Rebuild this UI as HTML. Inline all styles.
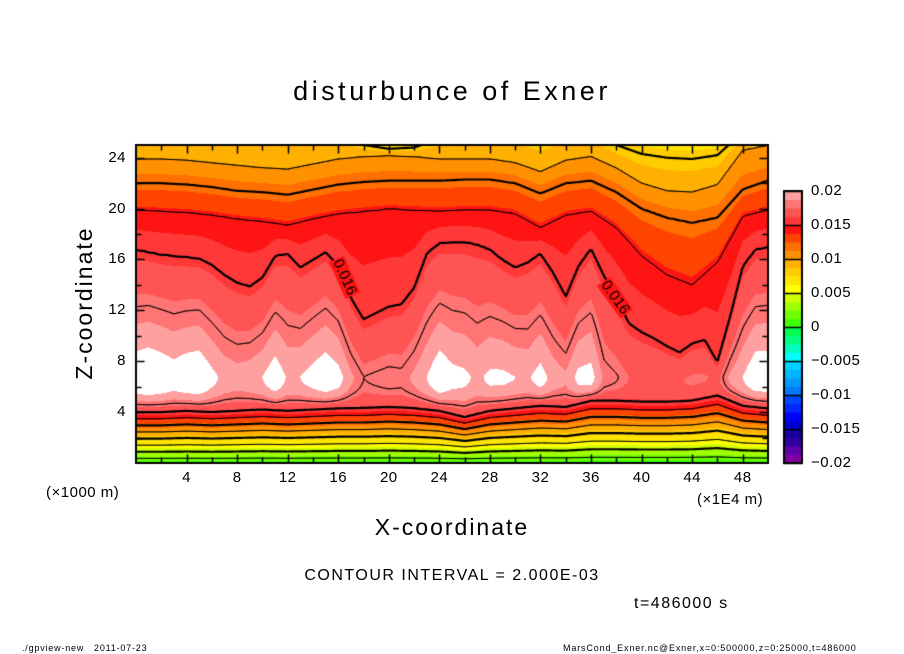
<!DOCTYPE html>
<html><head><meta charset="utf-8">
<style>
body{margin:0;background:#fff;}
#wrap{position:relative;width:904px;height:654px;overflow:hidden;background:#fff;font-family:"Liberation Sans",sans-serif;}
.t{position:absolute;white-space:nowrap;color:#000;}
canvas{position:absolute;left:0;top:0;}
</style></head>
<body>
<div id="wrap">
<canvas id="cv" width="904" height="654"></canvas>
<div class="t" style="left:0;width:904px;text-align:center;top:76px;font-size:27px;letter-spacing:3.5px;">disturbunce of Exner</div>
<div class="t" style="left:0;width:904px;text-align:center;top:514px;font-size:23px;letter-spacing:2px;">X-coordinate</div>
<div class="t" style="left:-16px;top:290px;width:200px;text-align:center;font-size:23px;letter-spacing:2px;transform:translate(0px,0) rotate(-90deg);transform-origin:100px 13px;">Z-coordinate</div>
<div class="t" style="left:46px;top:484px;font-size:15px;letter-spacing:0.5px;">(×1000 m)</div>
<div class="t" style="left:697px;top:491px;font-size:15px;letter-spacing:0.5px;">(×1E4 m)</div>
<div class="t" style="left:0;width:904px;text-align:center;top:567px;font-size:16px;letter-spacing:1.5px;">CONTOUR INTERVAL = 2.000E-03</div>
<div class="t" style="left:634px;top:595px;font-size:16px;letter-spacing:1.5px;">t=486000 s</div>
<div class="t" style="left:22px;top:643px;font-size:9px;letter-spacing:0.8px;">./gpview-new&nbsp;&nbsp;&nbsp;2011-07-23</div>
<div class="t" style="left:563px;top:643px;font-size:9px;letter-spacing:0.85px;">MarsCond_Exner.nc@Exner,x=0:500000,z=0:25000,t=486000</div>
<div id="labels"></div>
</div>
<script>
// ---- data ----
const xTicks=[4,8,12,16,20,24,28,32,36,40,44,48];
const zTicks=[4,8,12,16,20,24];
const cbTicks=[0.02,0.015,0.01,0.005,0,-0.005,-0.01,-0.015,-0.02];
const cbLabels=["0.02","0.015","0.01","0.005","0","\u22120.005","\u22120.01","\u22120.015","\u22120.02"];
// per x = 0..50 step 1
const zUpper16=[16.8,16.6,16.4,16.3,16.2,16.1,15.6,14.8,14.2,13.9,14.6,16.3,16.5,15.4,16.0,16.6,15.5,13.0,11.3,11.8,12.3,12.5,13.8,16.5,17.3,17.4,17.4,17.2,16.8,16.0,15.4,15.8,16.5,15.0,13.1,15.5,16.9,14.8,13.0,11.0,10.3,9.8,9.2,8.7,9.4,9.7,7.9,11.5,15.5,16.8,17.0];
const peakVal=[0.0212,0.0215,0.0212,0.0208,0.0212,0.0214,0.0204,0.0196,0.0193,0.0195,0.0200,0.0210,0.0198,0.0200,0.0206,0.0212,0.0206,0.0190,0.0180,0.0182,0.0184,0.0183,0.0190,0.0200,0.0212,0.0205,0.0203,0.0197,0.0203,0.0203,0.0200,0.0198,0.0206,0.0195,0.0190,0.0204,0.0206,0.0185,0.0181,0.0175,0.0174,0.0174,0.0174,0.0174,0.0177,0.0176,0.0172,0.0190,0.0200,0.0212,0.0212];
// per x = 0..50 step 2
const zUpper14=[19.9,19.8,19.7,19.5,19.2,19.0,18.7,19.2,19.6,19.8,20.0,19.9,19.8,19.9,19.9,19.6,18.5,19.5,19.8,18.5,16.3,14.8,14.0,15.8,19.4,19.9];
const zUpper12=[22.0,22.0,21.9,21.7,21.4,21.3,21.1,21.5,21.9,22.1,22.2,22.2,22.2,22.3,22.3,22.0,21.2,22.0,22.2,21.3,20.0,19.3,18.9,19.3,21.5,22.2];
const zUpper10=[23.9,23.9,23.8,23.6,23.4,23.2,23.1,23.5,23.9,24.1,24.2,24.1,23.9,23.9,23.9,23.6,22.9,23.8,24.1,23.2,22.0,21.4,21.3,21.9,24.6,25.0];
const zUpper8=[26,26,26,26,26,26,26,26,25.8,25.0,24.7,24.8,25.5,26,26,26,25.5,26,26,25.0,24.3,24.0,23.9,24.2,26,26];
const zLower16=[4.0,4.0,4.1,4.0,4.1,4.2,4.1,4.2,4.3,4.3,4.4,4.3,4.1,3.6,4.1,4.3,4.5,4.4,4.9,4.9,4.8,4.8,4.9,5.3,4.5,4.3];
const bandColors=["#8000a0","#6000a8","#3000a0","#1800a0","#0000d0","#0000ff","#0028ff","#0048ff","#0078ff","#0098ff","#00b4ff","#00d0ff","#00ffff","#00ffc0","#00ff80","#00ff50","#40ff00","#70ff00","#a0ff00","#d0ff00","#ffff00","#ffe400","#ffcc00","#ffb000","#ff9000","#ff7000","#ff4400","#ff1414","#ff3838","#ff5454","#ff7474","#ffa0a0"];
// ---- axes ----
const PX0=136,PX1=768,PY0=145,PY1=463,XMAX=50,ZMAX=25;
const sx=x=>PX0+(x/XMAX)*(PX1-PX0);
const sz=z=>PY1-(z/ZMAX)*(PY1-PY0);
const CBX=784,CBW=18,CBY0=191,CBY1=463;
const scb=v=>CBY1-(v+0.02)/0.04*(CBY1-CBY0);
function lerpArr(a,x,step){let i=x/step;let i0=Math.max(0,Math.min(a.length-2,Math.floor(i)));let t=i-i0;return a[i0]*(1-t)+a[i0+1]*t;}
function field(x,z){
  const zL=lerpArr(zLower16,x,2),zU=lerpArr(zUpper16,x,1),P=lerpArr(peakVal,x,1);
  if(z<=zL) return 0.0006+0.0154*(z/zL);
  if(z<zU){
    const zp=Math.min(6.8,zL+(zU-zL)*0.4);let s;
    if(z<zp){const t=(z-zL)/(zp-zL);s=1-(1-t)*(1-t);}else{const t=(zU-z)/(zU-zp);s=Math.pow(t,1.2);}
    return 0.016+(P-0.016)*s;
  }
  const hs=[zU,lerpArr(zUpper14,x,2),lerpArr(zUpper12,x,2),lerpArr(zUpper10,x,2),lerpArr(zUpper8,x,2)];
  const vs=[0.016,0.014,0.012,0.010,0.008];
  for(let k=0;k<4;k++){if(z<=hs[k+1]){return vs[k]+(vs[k+1]-vs[k])*(z-hs[k])/Math.max(0.05,hs[k+1]-hs[k]);}}
  return 0.008-0.002*(z-hs[4])/Math.max(0.3,hs[4]-hs[3]);
}
function colorOf(v){if(v>=0.02)return "#ffffff";let i=Math.floor((v+0.02)/0.00125);i=Math.max(0,Math.min(bandColors.length-1,i));return bandColors[i];}
function hex(c){return [parseInt(c.substr(1,2),16),parseInt(c.substr(3,2),16),parseInt(c.substr(5,2),16)];}
const cv=document.getElementById('cv');const ctx=cv.getContext('2d');
const W=PX1-PX0,H=PY1-PY0;const img=ctx.createImageData(W,H);
for(let j=0;j<H;j++){const z=(PY1-(PY0+j+0.5))/(PY1-PY0)*ZMAX;
  for(let i=0;i<W;i++){const x=(i+0.5)/W*XMAX;const c=hex(colorOf(field(x,z)));const o=(j*W+i)*4;img.data[o]=c[0];img.data[o+1]=c[1];img.data[o+2]=c[2];img.data[o+3]=255;}}
ctx.putImageData(img,PX0,PY0);
// contours (marching squares)
const G=2,NX=Math.ceil(W/G)+1,NY=Math.ceil(H/G)+1;const grid=[];
for(let j=0;j<NY;j++){grid.push([]);for(let i=0;i<NX;i++){const px=Math.min(W,i*G),py=Math.min(H,j*G);grid[j].push(field(px/W*XMAX,(H-py)/H*ZMAX));}}
ctx.strokeStyle="#000";ctx.lineCap="round";
for(let L=1;L<=9;L++){const lev=L*0.002;ctx.lineWidth=(L%2===0)?2.2:1;ctx.beginPath();
  for(let j=0;j<NY-1;j++)for(let i=0;i<NX-1;i++){
    const a=grid[j][i],b=grid[j][i+1],c=grid[j+1][i+1],d=grid[j+1][i];
    const x0=PX0+Math.min(W,i*G),x1=PX0+Math.min(W,(i+1)*G),y0=PY0+Math.min(H,j*G),y1=PY0+Math.min(H,(j+1)*G);
    const pts=[];
    if((a-lev)*(b-lev)<0){const t=(lev-a)/(b-a);pts.push([x0+t*(x1-x0),y0]);}
    if((b-lev)*(c-lev)<0){const t=(lev-b)/(c-b);pts.push([x1,y0+t*(y1-y0)]);}
    if((d-lev)*(c-lev)<0){const t=(lev-d)/(c-d);pts.push([x0+t*(x1-x0),y1]);}
    if((a-lev)*(d-lev)<0){const t=(lev-a)/(d-a);pts.push([x0,y0+t*(y1-y0)]);}
    for(let k=0;k+1<pts.length;k+=2){ctx.moveTo(pts[k][0],pts[k][1]);ctx.lineTo(pts[k+1][0],pts[k+1][1]);}
  }ctx.stroke();}
// contour labels
function clabel(x,z,ang){const X=sx(x),Y=sz(z);ctx.save();ctx.translate(X,Y);ctx.rotate(ang);
  ctx.fillStyle="#ff1414";ctx.fillRect(-20,-8,40,16);ctx.fillStyle="#000";ctx.font="15px 'Liberation Sans',sans-serif";ctx.textAlign="center";ctx.textBaseline="middle";ctx.fillText("0.016",0,0);ctx.restore();}
clabel(16.5,14.6,1.15);clabel(37.9,13.0,0.95);
// frame & ticks
ctx.lineWidth=2;ctx.strokeRect(PX0,PY0,W,H);ctx.lineWidth=1.5;ctx.beginPath();
for(let x=2;x<50;x+=2){const L=(x%4===0)?8:5;const X=Math.round(sx(x))+0.5;ctx.moveTo(X,PY1);ctx.lineTo(X,PY1-L);ctx.moveTo(X,PY0);ctx.lineTo(X,PY0+L);}
for(let z=2;z<25;z+=2){const L=(z%4===0)?8:5;const Y=Math.round(sz(z))+0.5;ctx.moveTo(PX0,Y);ctx.lineTo(PX0+L,Y);ctx.moveTo(PX1,Y);ctx.lineTo(PX1-L,Y);}
ctx.stroke();
// colorbar
for(let k=0;k<32;k++){const v0=-0.02+k*0.00125;ctx.fillStyle=bandColors[k];const ya=scb(v0+0.00125),yb=scb(v0);ctx.fillRect(CBX,ya,CBW,yb-ya+0.5);}
ctx.lineWidth=1.5;ctx.beginPath();cbTicks.forEach(v=>{const Y=Math.round(scb(v))+0.5;ctx.moveTo(CBX,Y);ctx.lineTo(CBX+CBW,Y);});ctx.stroke();
ctx.lineWidth=2;ctx.strokeRect(CBX,CBY0,CBW,CBY1-CBY0);
// text labels
const lab=document.getElementById('labels');
function addT(txt,l,t,extra,name){const d=document.createElement('div');d.className='t';d.textContent=txt;d.style.cssText+='left:'+l+'px;top:'+t+'px;font-size:15px;letter-spacing:0.5px;'+(extra||'');


lab.appendChild(d);}
xTicks.forEach(x=>addT(String(x),sx(x)-20,469,'width:40px;text-align:center;','x-tick-label'));
zTicks.forEach(z=>addT(String(z),86,sz(z)-9,'width:40px;text-align:right;','y-tick-label'));
cbTicks.forEach((v,i)=>addT(cbLabels[i],811,scb(v)-9,'','colorbar-tick-label'));
</script>
</body></html>
